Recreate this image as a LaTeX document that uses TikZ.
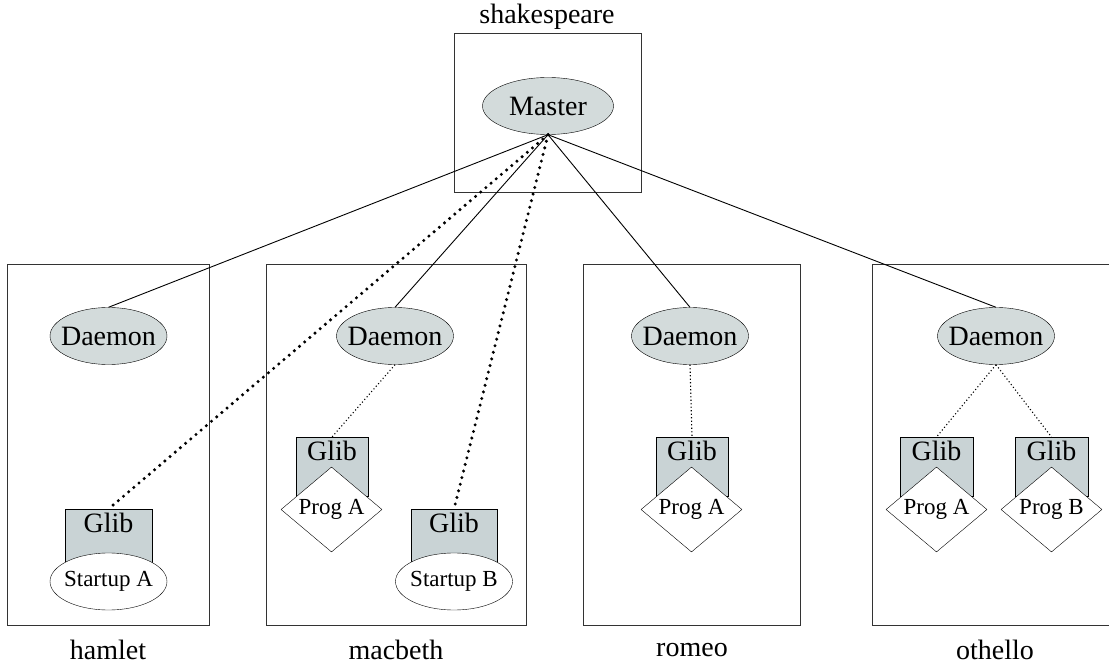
\documentclass[tikz,border=0pt]{standalone}
\usepackage{fontspec}
\setmainfont{Liberation Serif}
\usetikzlibrary{shapes.geometric}
\definecolor{ellfill}{RGB}{211,219,219}
\definecolor{glibfill}{RGB}{201,211,213}
\begin{document}
\begin{tikzpicture}[x=1pt,y=-1pt,
  big/.style={font=\fontsize{28}{32}\selectfont},
  small/.style={font=\fontsize{23}{26}\selectfont},
  host/.style={rectangle, draw=black!80, line width=1pt, inner sep=0pt},
  proc/.style={ellipse, draw, fill=ellfill, inner sep=0pt, minimum width=117pt, minimum height=57pt, big},
  glib/.style={rectangle, draw, fill=glibfill, inner xsep=0pt, inner ysep=3pt, text height=20pt, text depth=33pt, anchor=north, big},
  prog/.style={diamond, draw, fill=white, inner sep=0pt, aspect=1.2, minimum width=101pt, minimum height=85pt, small},
  startup/.style={ellipse, draw, fill=white, inner sep=0pt, minimum width=117pt, minimum height=57pt, small},
  link/.style={line width=0.9pt},
  bigdot/.style={line width=3.4pt, line cap=round, dash pattern=on 0pt off 6.8pt},
  smalldot/.style={line width=1.1pt, dash pattern=on 1.1pt off 2.4pt},
]
\clip (0,0) rectangle (1109,666);

% host boxes
\node[host, minimum width=187pt, minimum height=159pt] (sbox) at (547.5,113.5) {};
\node[host, minimum width=202pt, minimum height=361pt] (hbox) at (108,444.5) {};
\node[host, minimum width=260pt, minimum height=361pt] (mbox) at (396,444.5) {};
\node[host, minimum width=217pt, minimum height=361pt] (rbox) at (691.5,444.5) {};
\node[host, minimum width=244pt, minimum height=361pt] (obox) at (994,444.5) {};

% host labels
\node[big] (slabel) at (547,17) {shakespeare};
\node[big] (hlabel) at (108,650) {hamlet};
\node[big] (mlabel) at (396,650) {macbeth};
\node[big] (rlabel) at (692,650) {romeo};
\node[big] (olabel) at (995,650) {othello};

% master and daemons
\node[proc, minimum width=131pt] (master) at (548,106) {\makebox[0pt]{Master}};
\node[proc] (hd) at (108.5,336) {\makebox[0pt]{Daemon}};
\node[proc] (md) at (395,336) {\makebox[0pt]{Daemon}};
\node[proc] (rd) at (690,336) {\makebox[0pt]{Daemon}};
\node[proc] (od) at (996,336) {\makebox[0pt]{Daemon}};

% glib boxes
\node[glib, minimum width=87pt] (hg) at (108.5,509) {Glib};
\node[glib, minimum width=72pt] (mgA) at (332,437) {Glib};
\node[glib, minimum width=86pt] (mgB) at (454,509) {Glib};
\node[glib, minimum width=72pt] (rg) at (692,437) {Glib};
\node[glib, minimum width=73pt] (ogA) at (936.5,437) {Glib};
\node[glib, minimum width=73pt] (ogB) at (1051.5,437) {Glib};

% programs
\node[startup] (hsa) at (108.5,581.5) {\makebox[0pt]{Startup A}};
\node[prog] (mpa) at (331.5,509.5) {\makebox[0pt]{Prog A}};
\node[startup] (msb) at (454,581.5) {\makebox[0pt]{Startup B}};
\node[prog] (rpa) at (691.5,509.5) {\makebox[0pt]{Prog A}};
\node[prog] (opa) at (936.5,509.5) {\makebox[0pt]{Prog A}};
\node[prog] (opb) at (1051.5,509.5) {\makebox[0pt]{Prog B}};

% connectors
\draw[link] (master.south) -- (hd.north);
\draw[link] (master.south) -- (md.north);
\draw[link] (master.south) -- (rd.north);
\draw[link] (master.south) -- (od.north);
\draw[bigdot] (master.south) -- (hg.north);
\draw[bigdot] (master.south) -- (mgB.north);
\draw[smalldot] (md.south) -- (mgA.north);
\draw[smalldot] (rd.south) -- (rg.north);
\draw[smalldot] (od.south) -- (ogA.north);
\draw[smalldot] (od.south) -- (ogB.north);
\end{tikzpicture}
\end{document}
